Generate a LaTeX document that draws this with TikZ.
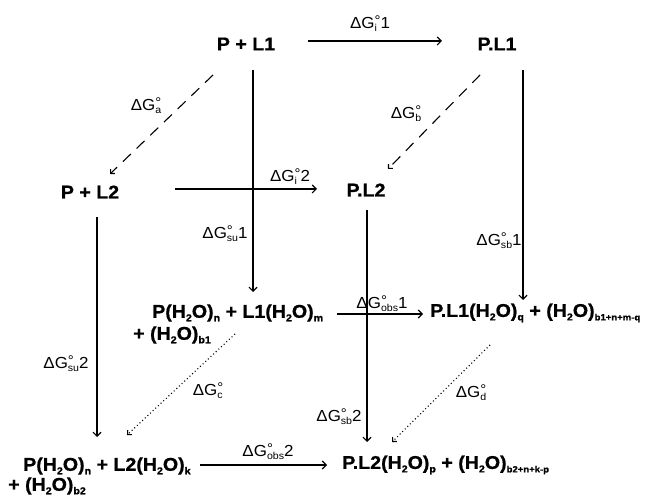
\documentclass[tikz,border=0pt]{standalone}
\usepackage{fontspec}
\setmainfont{Liberation Sans}[FakeStretch=1.06, BoldFeatures={FakeBold=0.8}]
\usetikzlibrary{arrows.meta,calc}

% subscript for chemical species
\newcommand\chsub[1]{\raisebox{-3.5pt}{\fontsize{10}{10}\selectfont #1}}
% degree sign stacked over a subscript
\newcommand\supsub[2]{{\setbox0=\hbox{\fontsize{14}{14}\selectfont #1}%
  \setbox2=\hbox{\fontsize{10}{10}\selectfont #2}%
  \ifdim\wd0>\wd2 \wd2=\wd0 \fi\rlap{\raisebox{2.5pt}{\box0}}\raisebox{-3.5pt}{\box2}}}
\newcommand\dG[2]{ΔG\supsub{°}{#1}#2}
\newcommand\water{(H\chsub{2}O)}

\tikzset{
  species/.style={font=\bfseries\fontsize{18.5}{21}\selectfont, inner sep=0pt},
  lbl/.style={font=\fontsize{16}{18}\selectfont, inner sep=0pt},
  arr/.style={line width=1.1pt, -{Straight Barb[length=4pt,width=8pt]}},
  dasharr/.style={line width=1.1pt, dash pattern=on 11pt off 8pt,
    -{Straight Barb[length=3pt,width=6pt]}},
  dotarr/.style={line width=1.1pt, dash pattern=on 1pt off 2.6pt,
    -{Straight Barb[length=3pt,width=6pt]}},
}

\begin{document}
\begin{tikzpicture}[x=1pt,y=-1pt]
\useasboundingbox (0,0) rectangle (651,502);

% species
\node[species] (PL1)  at (246,44)  {P + L1};
\node[species] (PdL1) at (497,44)  {P.L1};
\node[species] (PL2)  at (90,192)  {P + L2};
\node[species] (PdL2) at (366,190) {P.L2};
\node[species, anchor=west] (A1)  at (152,313) {P\water\chsub{n} + L1\water\chsub{m}};
\node[species, anchor=west] (A1b) at (133,335) {+ \water\chsub{b1}};
\node[species, anchor=west] (B1)  at (430,313) {P.L1\water\chsub{q} + \water\chsub{\fontsize{9}{9}\selectfont b1+n+m-q}};
\node[species, anchor=west] (A2)  at (23,466)  {P\water\chsub{n} + L2\water\chsub{k}};
\node[species, anchor=west] (A2b) at (8,486)   {+ \water\chsub{b2}};
\node[species, anchor=west] (B2)  at (342,465) {P.L2\water\chsub{p} + \water\chsub{\fontsize{9}{9}\selectfont b2+n+k-p}};

% connectors
\draw[arr] ($(PL1)+(62,-3)$) -- ($(PdL1)+(-55,-3)$);
\draw[dasharr] ($(PL1)+(-33,31)$) -- ($(PL2)+(20,-18)$);
\draw[dasharr] ($(PdL1)+(-17,31)$) -- ($(PdL2)+(22,-21)$);
\draw[arr] ($(PL2)+(85,-3)$) -- ($(PdL2)+(-49,-1)$);
\draw[arr] ($(PL1)+(7,26)$) -- ($(A1.west)+(101,-21)$);
\draw[arr] ($(PdL1)+(26,26)$) -- ($(B1.west)+(93,-13)$);
\draw[arr] ($(PdL2)+(1,20)$) -- ($(B2.west)+(25,-23)$);
\draw[arr] ($(PL2)+(7,25)$) -- ($(A2.west)+(74,-29)$);
\draw[arr] ($(A1.west)+(185,1)$) -- ($(B1.west)+(-7,1)$);
\draw[arr] ($(A2.west)+(177,-1)$) -- ($(B2.west)+(-15,0)$);
\draw[dotarr] ($(A1b.west)+(102,-1)$) -- ($(A2.west)+(104,-31)$);
\draw[dotarr] ($(B1.west)+(60,32)$) -- ($(B2.west)+(50,-23)$);

% free energy labels
\node[lbl] (gi1)  at (370,24)  {\dG{i}{1}};
\node[lbl] (ga)   at (146,106) {\dG{a}{}};
\node[lbl] (gb)   at (406,114) {\dG{b}{}};
\node[lbl] (gi2)  at (290,177) {\dG{i}{2}};
\node[lbl] (gsu1) at (225,234) {\dG{su}{1}};
\node[lbl] (gsb1) at (499,241) {\dG{sb}{1}};
\node[lbl] (gob1) at (382,304) {\dG{obs}{1}};
\node[lbl] (gsu2) at (66,364)  {\dG{su}{2}};
\node[lbl] (gc)   at (208,391) {\dG{c}{}};
\node[lbl] (gd)   at (471,393) {\dG{d}{}};
\node[lbl] (gsb2) at (339,417) {\dG{sb}{2}};
\node[lbl] (gob2) at (268,452) {\dG{obs}{2}};
\end{tikzpicture}
\end{document}
